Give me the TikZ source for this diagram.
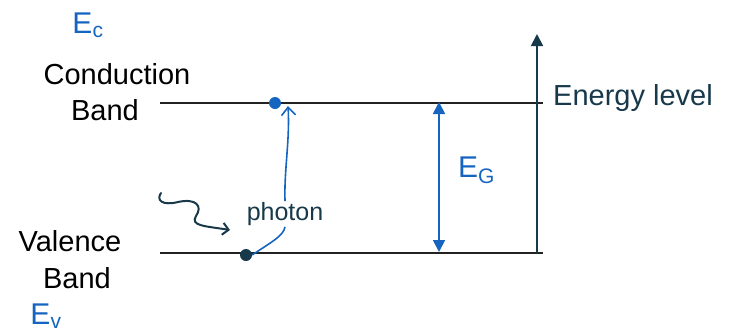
\documentclass[tikz,border=0pt]{standalone}
\usepackage{fontspec}
\setmainfont{Liberation Sans}
\usetikzlibrary{arrows.meta}
\definecolor{teal}{HTML}{17394A}
\definecolor{bl}{HTML}{1565C0}
\definecolor{ln}{HTML}{222222}
\tikzset{
  lvl/.style={draw=ln, line width=1.6pt},
  lab/.style={font=\fontsize{29}{31}\selectfont, text=black, inner sep=0pt},
  bluelab/.style={font=\fontsize{30}{32}\selectfont, text=bl, inner sep=0pt},
  tlab/.style={font=\fontsize{29}{31}\selectfont, text=teal, inner sep=1pt},
  phlab/.style={font=\fontsize{25}{27}\selectfont, text=teal, inner sep=1pt},
  dot/.style={circle, inner sep=0pt, minimum size=12pt},
}
\begin{document}
\begin{tikzpicture}[x=1pt,y=-1pt]
\useasboundingbox (0,0) rectangle (729,333);
% levels
\coordinate (cl) at (160,103);
\coordinate (cr) at (543,103);
\coordinate (vl) at (160,253);
\coordinate (vr) at (543,253);
\draw[lvl] (cl) -- (cr);
\draw[lvl] (vl) -- (vr);
% energy axis
\coordinate (ab) at (537,253);
\coordinate (at) at (537,34);
\draw[draw=teal, line width=1.8pt, -{Triangle[length=12pt,width=12pt]}] (ab) -- (at);
\node[tlab, anchor=west] (elev) at (552,98) {Energy level};
% gap arrow
\coordinate (gt) at (439,102);
\coordinate (gb) at (439,252);
\draw[draw=bl, line width=1.8pt, {Triangle[length=12pt,width=12pt]}-{Triangle[length=12pt,width=12pt]}] (gt) -- (gb);
\node[bluelab, anchor=west] (eg) at (458,170) {E\textsubscript{G}};
% labels
\node[lab] (cond) at (117,74) {Conduction};
\node[lab] (cband) at (105,110) {Band};
\node[bluelab] (ec) at (88,25) {E\textsubscript{c}};
\node[lab] (val) at (70,241) {Valence};
\node[lab] (vband) at (77,278) {Band};
\node[bluelab] (ev) at (46,316) {E\textsubscript{v}};
% electrons
\node[dot, fill=bl] (etop) at (275,103) {};
\node[dot, fill=teal] (ebot) at (246,255) {};
% photon excitation
\node[phlab] (ph) at (285,214) {photon};
\draw[draw=bl, line width=1.6pt] (ebot.east) .. controls (268,244) and (284,236) .. (ph.south);
\draw[draw=bl, line width=1.6pt, -{Straight Barb[length=8pt,width=14pt]}] (ph.north) .. controls (284,170) and (290,140) .. (288,106);
% incoming photon squiggle
\coordinate (ws) at (161,193);
\coordinate (we) at (230,230);
\draw[draw=teal, line width=2pt, line cap=round, -{Straight Barb[length=6pt,width=12pt]}] (ws) .. controls (156,200) and (162,206) .. (178,202) .. controls (196,198) and (203,206) .. (196,216) .. controls (190,226) and (205,226) .. (we);
\end{tikzpicture}
\end{document}
